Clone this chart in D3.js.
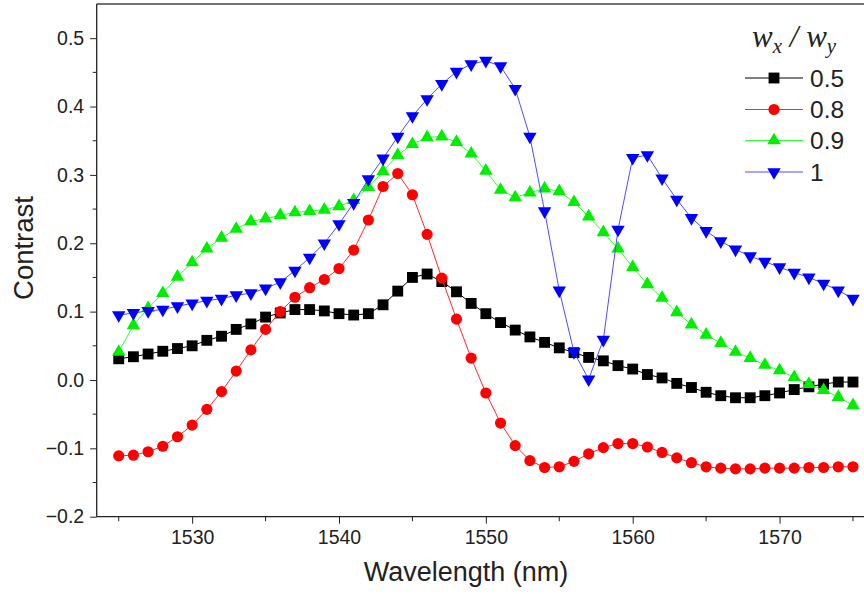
<!DOCTYPE html>
<html>
<head>
<meta charset="utf-8">
<script src="https://cdn.jsdelivr.net/npm/d3@7"></script>
<style>
  body { margin: 0; background: #fff; }
  text { font-family: "Liberation Sans", Arial, sans-serif; fill: #222; }
</style>
</head>
<body>
<div id="chart"></div>
<script>
const width = 864;
const height = 594;

// data
const wavelength = [1525, 1526, 1527, 1528, 1529, 1530, 1531, 1532, 1533, 1534,
  1535, 1536, 1537, 1538, 1539, 1540, 1541, 1542, 1543, 1544,
  1545, 1546, 1547, 1548, 1549, 1550, 1551, 1552, 1553, 1554,
  1555, 1556, 1557, 1558, 1559, 1560, 1561, 1562, 1563, 1564,
  1565, 1566, 1567, 1568, 1569, 1570, 1571, 1572, 1573, 1574, 1575];

const ratio05 = [0.031, 0.034, 0.038, 0.042, 0.046, 0.050, 0.058, 0.064, 0.074, 0.082,
  0.092, 0.098, 0.103, 0.103, 0.101, 0.097, 0.095, 0.097, 0.110, 0.130,
  0.150, 0.155, 0.144, 0.129, 0.112, 0.097, 0.084, 0.073, 0.063, 0.055,
  0.047, 0.040, 0.033, 0.028, 0.021, 0.016, 0.008, 0.003, -0.005, -0.011,
  -0.018, -0.023, -0.026, -0.026, -0.023, -0.019, -0.014, -0.010, -0.006, -0.003, -0.003];

const ratio08 = [-0.111, -0.110, -0.105, -0.097, -0.083, -0.066, -0.043, -0.017, 0.013, 0.044,
  0.074, 0.100, 0.121, 0.135, 0.147, 0.163, 0.190, 0.234, 0.283, 0.302,
  0.271, 0.213, 0.149, 0.089, 0.032, -0.019, -0.063, -0.096, -0.118, -0.128,
  -0.127, -0.119, -0.108, -0.099, -0.093, -0.093, -0.098, -0.106, -0.114, -0.121,
  -0.127, -0.129, -0.130, -0.130, -0.129, -0.129, -0.129, -0.128, -0.128, -0.127, -0.127];

const ratio09 = [0.041, 0.080, 0.105, 0.127, 0.151, 0.172, 0.192, 0.208, 0.221, 0.232,
  0.236, 0.241, 0.245, 0.247, 0.249, 0.254, 0.263, 0.282, 0.305, 0.329,
  0.345, 0.355, 0.356, 0.348, 0.331, 0.306, 0.278, 0.267, 0.274, 0.280,
  0.276, 0.260, 0.239, 0.216, 0.192, 0.165, 0.140, 0.120, 0.099, 0.081,
  0.066, 0.054, 0.041, 0.032, 0.022, 0.014, 0.004, -0.006, -0.015, -0.025, -0.037];

const ratio1 = [0.095, 0.098, 0.101, 0.103, 0.108, 0.112, 0.116, 0.119, 0.124, 0.127,
  0.134, 0.143, 0.160, 0.179, 0.200, 0.228, 0.259, 0.294, 0.324, 0.356,
  0.386, 0.411, 0.433, 0.451, 0.462, 0.467, 0.459, 0.426, 0.356, 0.247,
  0.131, 0.041, 0.001, 0.059, 0.220, 0.325, 0.329, 0.295, 0.264, 0.237,
  0.218, 0.203, 0.191, 0.181, 0.173, 0.165, 0.157, 0.150, 0.141, 0.131, 0.119];

const seriesLabels = ["0.5", "0.8", "0.9", "1"];
const xTicks = [1530, 1540, 1550, 1560, 1570];
const xMinor = [1525, 1535, 1545, 1555, 1565, 1575];
const yTicks = [-0.2, -0.1, 0.0, 0.1, 0.2, 0.3, 0.4, 0.5];
const yMinor = [-0.15, -0.05, 0.05, 0.15, 0.25, 0.35, 0.45];

const styles = [
  { color: "#000000", line: "#000000", symbol: d3.symbolSquare, size: 118, rot: 0 },
  { color: "#ff0000", line: "#ff2a2a", symbol: d3.symbolCircle, size: 98, rot: 0 },
  { color: "#00ee00", line: "#33ff33", symbol: d3.symbolTriangle, size: 78, rot: 0 },
  { color: "#0000ff", line: "#4d4dff", symbol: d3.symbolTriangle, size: 78, rot: 180 }
];

const series = [ratio05, ratio08, ratio09, ratio1].map((vals, i) => ({
  label: seriesLabels[i],
  style: styles[i],
  points: vals.map((v, j) => [wavelength[j], v])
}));

const svg = d3.select("#chart")
  .append("svg")
  .attr("width", width)
  .attr("height", height);

const x = d3.scaleLinear().domain([1523.5, 1576.5]).range([96.7, 875]);
const y = d3.scaleLinear().domain([-0.2, 0.55]).range([516.7, 4]);

// frame
const axisColor = "#222";
svg.append("line").attr("x1", x.range()[0]).attr("x2", x.range()[1])
  .attr("y1", y(0.55)).attr("y2", y(0.55)).attr("stroke", "#444").attr("stroke-width", 1.3);

// bottom axis
const xAxis = svg.append("g").attr("transform", `translate(0,${y.range()[0]})`)
  .call(d3.axisBottom(x).tickValues(xTicks).tickFormat(d3.format("d")).tickSize(7).tickPadding(6));
xAxis.append("g").selectAll("line").data(xMinor).join("line")
  .attr("x1", d => x(d)).attr("x2", d => x(d)).attr("y1", 0).attr("y2", 4.5)
  .attr("stroke", axisColor);

// left axis
const yAxis = svg.append("g").attr("transform", `translate(${x.range()[0]},0)`)
  .call(d3.axisLeft(y).tickValues(yTicks).tickFormat(d3.format(".1f")).tickSize(6.5).tickPadding(6));
yAxis.append("g").selectAll("line").data(yMinor).join("line")
  .attr("x1", 0).attr("x2", -4).attr("y1", d => y(d)).attr("y2", d => y(d))
  .attr("stroke", axisColor);

[xAxis, yAxis].forEach(g => {
  g.select(".domain").attr("stroke", axisColor).attr("stroke-width", 1.3);
  g.selectAll(".tick line").attr("stroke", axisColor);
  g.selectAll(".tick text").attr("font-size", 19.5).attr("fill", "#222");
});
yAxis.select(".domain").attr("d", `M-0,${y.range()[0]}V${y(0.55)}`);
xAxis.select(".domain").attr("d", `M${x.range()[0]},0H${x.range()[1]}`);

// axis titles
svg.append("text")
  .attr("x", 466).attr("y", 581)
  .attr("text-anchor", "middle")
  .attr("font-size", 27)
  .text("Wavelength (nm)");

svg.append("text")
  .attr("transform", "translate(33,248) rotate(-90)")
  .attr("text-anchor", "middle")
  .attr("font-size", 27.5)
  .text("Contrast");

// series
const line = d3.line().x(d => x(d[0])).y(d => y(d[1]));

const plot = svg.append("g");
series.forEach(s => {
  plot.append("path")
    .datum(s.points)
    .attr("fill", "none")
    .attr("stroke", s.style.line)
    .attr("stroke-width", 1)
    .attr("d", line);

  const sym = d3.symbol().type(s.style.symbol).size(s.style.size);
  plot.append("g").selectAll("path").data(s.points).join("path")
    .attr("transform", d => `translate(${x(d[0])},${y(d[1])}) rotate(${s.style.rot})`)
    .attr("d", sym)
    .attr("fill", s.style.color);
});

// legend
const legendTitle = svg.append("text")
  .attr("x", 752).attr("y", 47)
  .style("font-family", "'Liberation Serif', 'Times New Roman', serif")
  .style("font-style", "italic")
  .style("fill", "#222");
legendTitle.append("tspan").attr("font-size", 31).text("w");
legendTitle.append("tspan").attr("font-size", 21).attr("dy", 6).text("x");
legendTitle.append("tspan").attr("font-size", 31).attr("dy", -6).text(" / ");
legendTitle.append("tspan").attr("font-size", 31).text("w");
legendTitle.append("tspan").attr("font-size", 21).attr("dy", 6).text("y");

const legendRows = [78, 109.5, 140.5, 172];
const legend = svg.append("g");
series.forEach((s, i) => {
  const ly = legendRows[i];
  legend.append("line")
    .attr("x1", 745).attr("x2", 803).attr("y1", ly).attr("y2", ly)
    .attr("stroke", s.style.line).attr("stroke-width", 1);
  legend.append("path")
    .attr("transform", `translate(774,${ly}) rotate(${s.style.rot})`)
    .attr("d", d3.symbol().type(s.style.symbol).size(s.style.size)())
    .attr("fill", s.style.color);
  legend.append("text")
    .attr("x", 810).attr("y", ly + 8.5)
    .attr("font-size", 24.5)
    .text(s.label);
});
</script>
</body>
</html>
